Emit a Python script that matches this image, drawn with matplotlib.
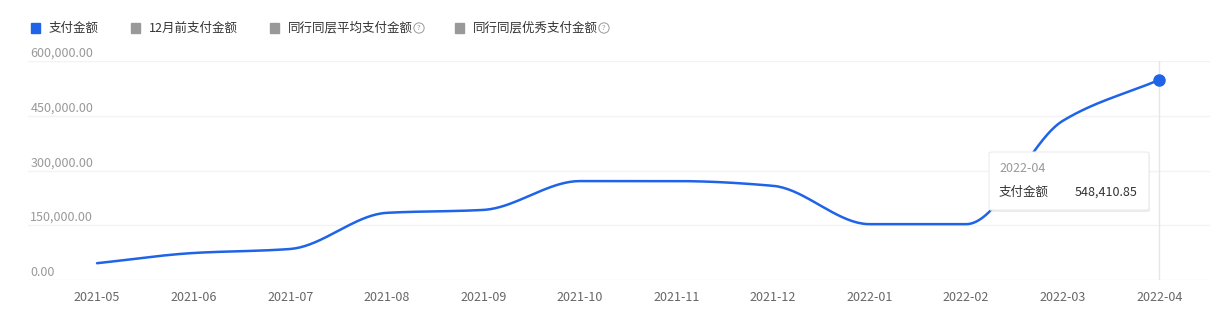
import numpy as np
import matplotlib
matplotlib.use("Agg")
import matplotlib.pyplot as plt
from matplotlib.patches import FancyBboxPatch, Rectangle

plt.rcParams['font.family'] = ['Noto Sans CJK SC', 'DejaVu Sans']

months = ['2021-05', '2021-06', '2021-07', '2021-08', '2021-09', '2021-10',
          '2021-11', '2021-12', '2022-01', '2022-02', '2022-03', '2022-04']
pay = [46000, 74000, 85000, 184000, 192000, 271000,
       271000, 258000, 153000, 153000, 436000, 548410.85]
yticks = [0, 150000, 300000, 450000, 600000]
legend_names = ['支付金额', '12月前支付金额', '同行同层平均支付金额', '同行同层优秀支付金额']
legend_help = [False, False, True, True]

BLUE = '#1f63e8'
GREY = '#999999'
W, H = 1218, 315


def pchip(x, y, n=40):
    # monotone cubic, close to the smooth line of the original
    x = np.asarray(x, float)
    y = np.asarray(y, float)
    h = np.diff(x)
    d = np.diff(y) / h
    m = np.zeros_like(y)
    for i in range(1, len(y) - 1):
        if d[i - 1] * d[i] > 0:
            m[i] = 2 / (1 / d[i - 1] + 1 / d[i])
    m[0] = d[0]
    m[-1] = d[-1]
    xs, ys = [], []
    for i in range(len(h)):
        t = np.linspace(0, 1, n)
        h00 = 2 * t**3 - 3 * t**2 + 1
        h10 = t**3 - 2 * t**2 + t
        h01 = -2 * t**3 + 3 * t**2
        h11 = t**3 - t**2
        xs.append(x[i] + t * h[i])
        ys.append(h00 * y[i] + h10 * h[i] * m[i] + h01 * y[i + 1] + h11 * h[i] * m[i + 1])
    return np.concatenate(xs), np.concatenate(ys)


fig = plt.figure(figsize=(W / 100, H / 100), dpi=100)
ax = fig.add_axes([28 / W, 35 / H, 1182 / W, 219 / H])

x = np.arange(len(months))
sx, sy = pchip(x, pay)
ax.plot(sx, sy, color=BLUE, lw=1.8, zorder=3, solid_capstyle='round')
ax.plot(x[-1], pay[-1], 'o', color=BLUE, ms=8, zorder=4)
ax.axvline(x[-1], color='#e6e6ea', lw=1, zorder=1)

ax.set_xlim(-0.715, 11.525)
ax.set_ylim(0, 600000)
for v in yticks:
    ax.axhline(v, color='#f2f2f7', lw=1, zorder=0)
    ax.text(0.002, v + 21000, f'{v:,.2f}', transform=ax.get_yaxis_transform(),
            ha='left', va='center', fontsize=9, color=GREY)

ax.set_xticks(x)
ax.set_xticklabels(months, fontsize=9, color='#666666')
ax.tick_params(axis='x', length=0, pad=8)
ax.set_yticks([])
for s in ax.spines.values():
    s.set_visible(False)

# legend
lx = [31, 131, 270, 455]
ly = (H - 28) / H
fig.canvas.draw()
for i, name in enumerate(legend_names):
    c = BLUE if i == 0 else GREY
    fig.patches.append(Rectangle((lx[i] / W, (H - 33) / H), 9 / W, 10 / H,
                                 transform=fig.transFigure, color=c))
    t = fig.text((lx[i] + 18) / W, ly, name, fontsize=9,
                 color='#333333', va='center', ha='left')
    if legend_help[i]:
        bb = t.get_window_extent(renderer=fig.canvas.get_renderer())
        fig.text((bb.x1 + 6) / W, ly, '?', fontsize=5.5,
                 color=GREY, ha='center', va='center',
                 bbox=dict(boxstyle='circle,pad=0.15', fc='white', ec=GREY, lw=0.7))

# tooltip
tip = FancyBboxPatch((989 / W, (H - 210) / H), 160 / W, 58 / H,
                     boxstyle='round,pad=0,rounding_size=0.004',
                     transform=fig.transFigure, fc='white', ec='#ececec', lw=0.8, zorder=10)
shadow = FancyBboxPatch((990 / W, (H - 212) / H), 160 / W, 58 / H,
                        boxstyle='round,pad=0,rounding_size=0.004',
                        transform=fig.transFigure, fc='#e0e0e0', ec='none', alpha=0.6, zorder=9)
fig.patches.extend([shadow, tip])
fig.text(999 / W, (H - 169) / H, months[-1], fontsize=9, color=GREY,
         va='center', zorder=11)
fig.text(999 / W, (H - 192) / H, legend_names[0], fontsize=9, color='#333333',
         va='center', zorder=11)
fig.text(1138 / W, (H - 192) / H, f'{pay[-1]:,.2f}', fontsize=9, color='#333333',
         va='center', ha='right', zorder=11)

fig.savefig('out.png', dpi=100, facecolor='white')
